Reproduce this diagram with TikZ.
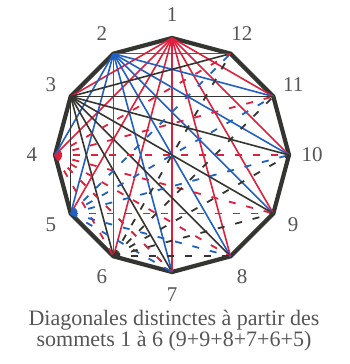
\documentclass[tikz,border=0pt]{standalone}
\usepackage{fontspec}
\setmainfont{Liberation Serif}
\definecolor{diared}{RGB}{222,32,60}
\definecolor{diablue}{RGB}{32,96,192}
\definecolor{diadark}{RGB}{52,52,48}
\definecolor{labgray}{RGB}{85,85,85}

\begin{document}
\begin{tikzpicture}[
  lbl/.style={text=labgray, font=\fontsize{21}{24}\selectfont, inner sep=0pt},
  edge/.style={draw=diadark, line width=4.2pt},
  diag/.style={line width=1.6pt},
  hid/.style={line width=1.8pt, dash pattern=on 7pt off 11pt}
]
  \useasboundingbox (-172pt,155pt) rectangle (178pt,-209pt);
  \foreach \i in {1,...,12} {
    \coordinate (v\i) at ({90+30*(\i-1)}:117pt);
    \node[lbl] (lab\i) at ({90+30*(\i-1)}:140pt) {\i};
  }

  \draw[edge] (v1) \foreach \i in {2,...,12} { -- (v\i) } -- cycle;

  \foreach \j in {3,...,11} \draw[diag, diared] (v1) -- (v\j);
  \foreach \j in {4,...,12} \draw[diag, diablue] (v2) -- (v\j);
  \foreach \j in {5,...,12} \draw[diag, diadark] (v3) -- (v\j);
  \foreach \j in {6,...,12} \draw[hid, diared] (v4) -- (v\j);
  \foreach \j in {7,...,12} \draw[hid, diablue] (v5) -- (v\j);
  \foreach \j in {8,...,12} \draw[hid, diadark] (v6) -- (v\j);

  \node[lbl, align=center, font=\fontsize{22}{20}\selectfont]
    (caption) at (2pt,-176pt)
    {Diagonales distinctes à partir des\\ sommets 1 à 6 (9+9+8+7+6+5)};
\end{tikzpicture}
\end{document}
